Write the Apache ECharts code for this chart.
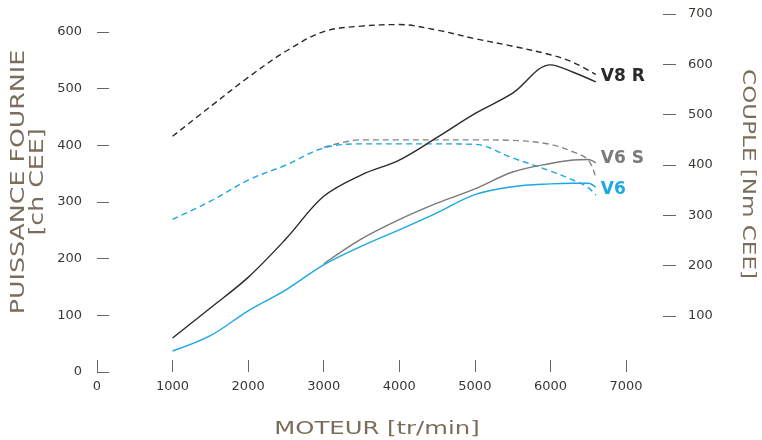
<!DOCTYPE html>
<html>
<head>
<meta charset="utf-8">
<script src="https://cdn.jsdelivr.net/npm/echarts@6/dist/echarts.min.js"></script>
<style>html,body{margin:0;padding:0;background:#fff}#c{width:762px;height:440px}</style>
</head>
<body>
<div id="c"></div>
<script>
// ---- data ----
var rpm = [1000,1500,2000,2500,3000,3500,4000,4500,5000,5500,6000,6300,6600];
var rpmV6S = [3000,3500,4000,4500,5000,5500,6000,6300,6500,6600];
var rpmV6 = [1000,1500,2000,2500,3000,3500,4000,4500,5000,5500,6000,6300,6500,6600];
// power (ch CEE)
var powerV8R = [60,113,167,235,310,348,374,414,456,492,542,529,512];
var powerV6S = [191,235,269,298,323,353,368,374,375,369];
var powerV6  = [37,64,108,145,189,222,251,281,313,327,332,333,333,326];
// torque (Nm CEE)
var torqueV8R = [457,516,574,626,665,676,679,668,651,636,619,604,580];
var torqueV6S = [435,450,450,450,450,449,441,426,410,375];
var torqueV6  = [292,328,370,400,434,442,442,442,441,414,388,370,355,340];
var xTicks = [0,1000,2000,3000,4000,5000,6000,7000];
var leftTicks = [0,100,200,300,400,500,600];
var rightTicks = [100,200,300,400,500,600,700];

function pairs(xs, ys){ return xs.map(function(x,i){ return [x, ys[i]]; }); }

var FONT = 'DejaVu Sans';
var labelColor = '#3b3834';
var tickColor = '#666';
var nameColor = '#7b6d5b';
var cBlack = '#2a2a2a', cGray = '#7a7a7a', cBlue = '#1ba8e4';

// layout: power grid spans x 97..626 for 0..7000 rpm; torque grid extends to the right axis at 676
var X0 = 97, XW = 529, XW2 = 579;
var xMax = 7000, xMax2 = xMax * XW2 / XW;

var chart = echarts.init(document.getElementById('c'), null, {renderer:'canvas'});

function line(name, data, color, dashed, yIdx, label, off){
  var s = {
    name: name, type: 'line', data: data, smooth: 0.35, showSymbol: false, symbol: 'none',
    xAxisIndex: yIdx, yAxisIndex: yIdx,
    lineStyle: {color: color, width: 1.4, type: dashed ? [6,4] : 'solid'},
    animation: false, silent: true
  };
  if (label) {
    s.endLabel = {show: true, formatter: label, color: color, fontFamily: FONT, fontSize: 17, fontWeight: 'bold', offset: off};
  }
  return s;
}

chart.setOption({
  animation: false,
  grid: [
    {left: X0, width: XW, top: 32, height: 340, outerBoundsMode: 'none', containLabel: false},
    {left: X0, width: XW2, top: 14, height: 302, outerBoundsMode: 'none', containLabel: false}
  ],
  xAxis: [
    {type: 'value', gridIndex: 0, min: 0, max: xMax, interval: 1000,
     axisLine: {show: false, onZero: false}, splitLine: {show: false},
     axisTick: {show: true, inside: true, length: 12, lineStyle: {color: tickColor, width: 1}},
     axisLabel: {color: labelColor, fontFamily: FONT, fontSize: 13, margin: 8,
       formatter: function(v){ return String(v); }}},
    {type: 'value', gridIndex: 1, min: 0, max: xMax2, show: false, axisLine: {onZero: false}}
  ],
  yAxis: [
    {type: 'value', gridIndex: 0, position: 'left', min: 0, max: 600, interval: 100,
     axisLine: {show: false, onZero: false}, splitLine: {show: false},
     axisTick: {show: true, inside: true, length: 12, lineStyle: {color: tickColor, width: 1}},
     axisLabel: {color: labelColor, fontFamily: FONT, fontSize: 13, margin: 15}},
    {type: 'value', gridIndex: 1, position: 'right', min: 100, max: 700, interval: 100,
     axisLine: {show: false, onZero: false}, splitLine: {show: false},
     axisTick: {show: true, inside: true, length: 13, lineStyle: {color: tickColor, width: 1}},
     axisLabel: {color: labelColor, fontFamily: FONT, fontSize: 13, margin: 12}}
  ],
  graphic: [
    {type: 'text', x: 29, y: 182, rotation: Math.PI/2, scaleX: 1.33,
     style: {text: 'PUISSANCE FOURNIE\n[ch CEE]', fill: nameColor, font: '19px "DejaVu Sans"',
       align: 'center', verticalAlign: 'middle', lineHeight: 19}},
    {type: 'text', x: 748, y: 174, rotation: -Math.PI/2, scaleX: 1.28,
     style: {text: 'COUPLE [Nm CEE]', fill: nameColor, font: '18px "DejaVu Sans"',
       align: 'center', verticalAlign: 'middle'}},
    {type: 'text', x: 377, y: 430, scaleX: 1.43,
     style: {text: 'MOTEUR [tr/min]', fill: nameColor, font: '17px "DejaVu Sans"',
       align: 'center', verticalAlign: 'middle'}}
  ],
  series: [
    line('V6S couple', pairs(rpmV6S, torqueV6S), '#858585', true, 1),
    line('V6 couple', pairs(rpmV6, torqueV6), cBlue, true, 1),
    line('V8R couple', pairs(rpm, torqueV8R), cBlack, true, 1),
    line('V6 S', pairs(rpmV6S, powerV6S), cGray, false, 0, 'V6 S', [-3,-4]),
    line('V6', pairs(rpmV6, powerV6), cBlue, false, 0, 'V6', [-3,2]),
    line('V8 R', pairs(rpm, powerV8R), cBlack, false, 0, 'V8 R', [-3,-5])
  ]
});
</script>
</body>
</html>
